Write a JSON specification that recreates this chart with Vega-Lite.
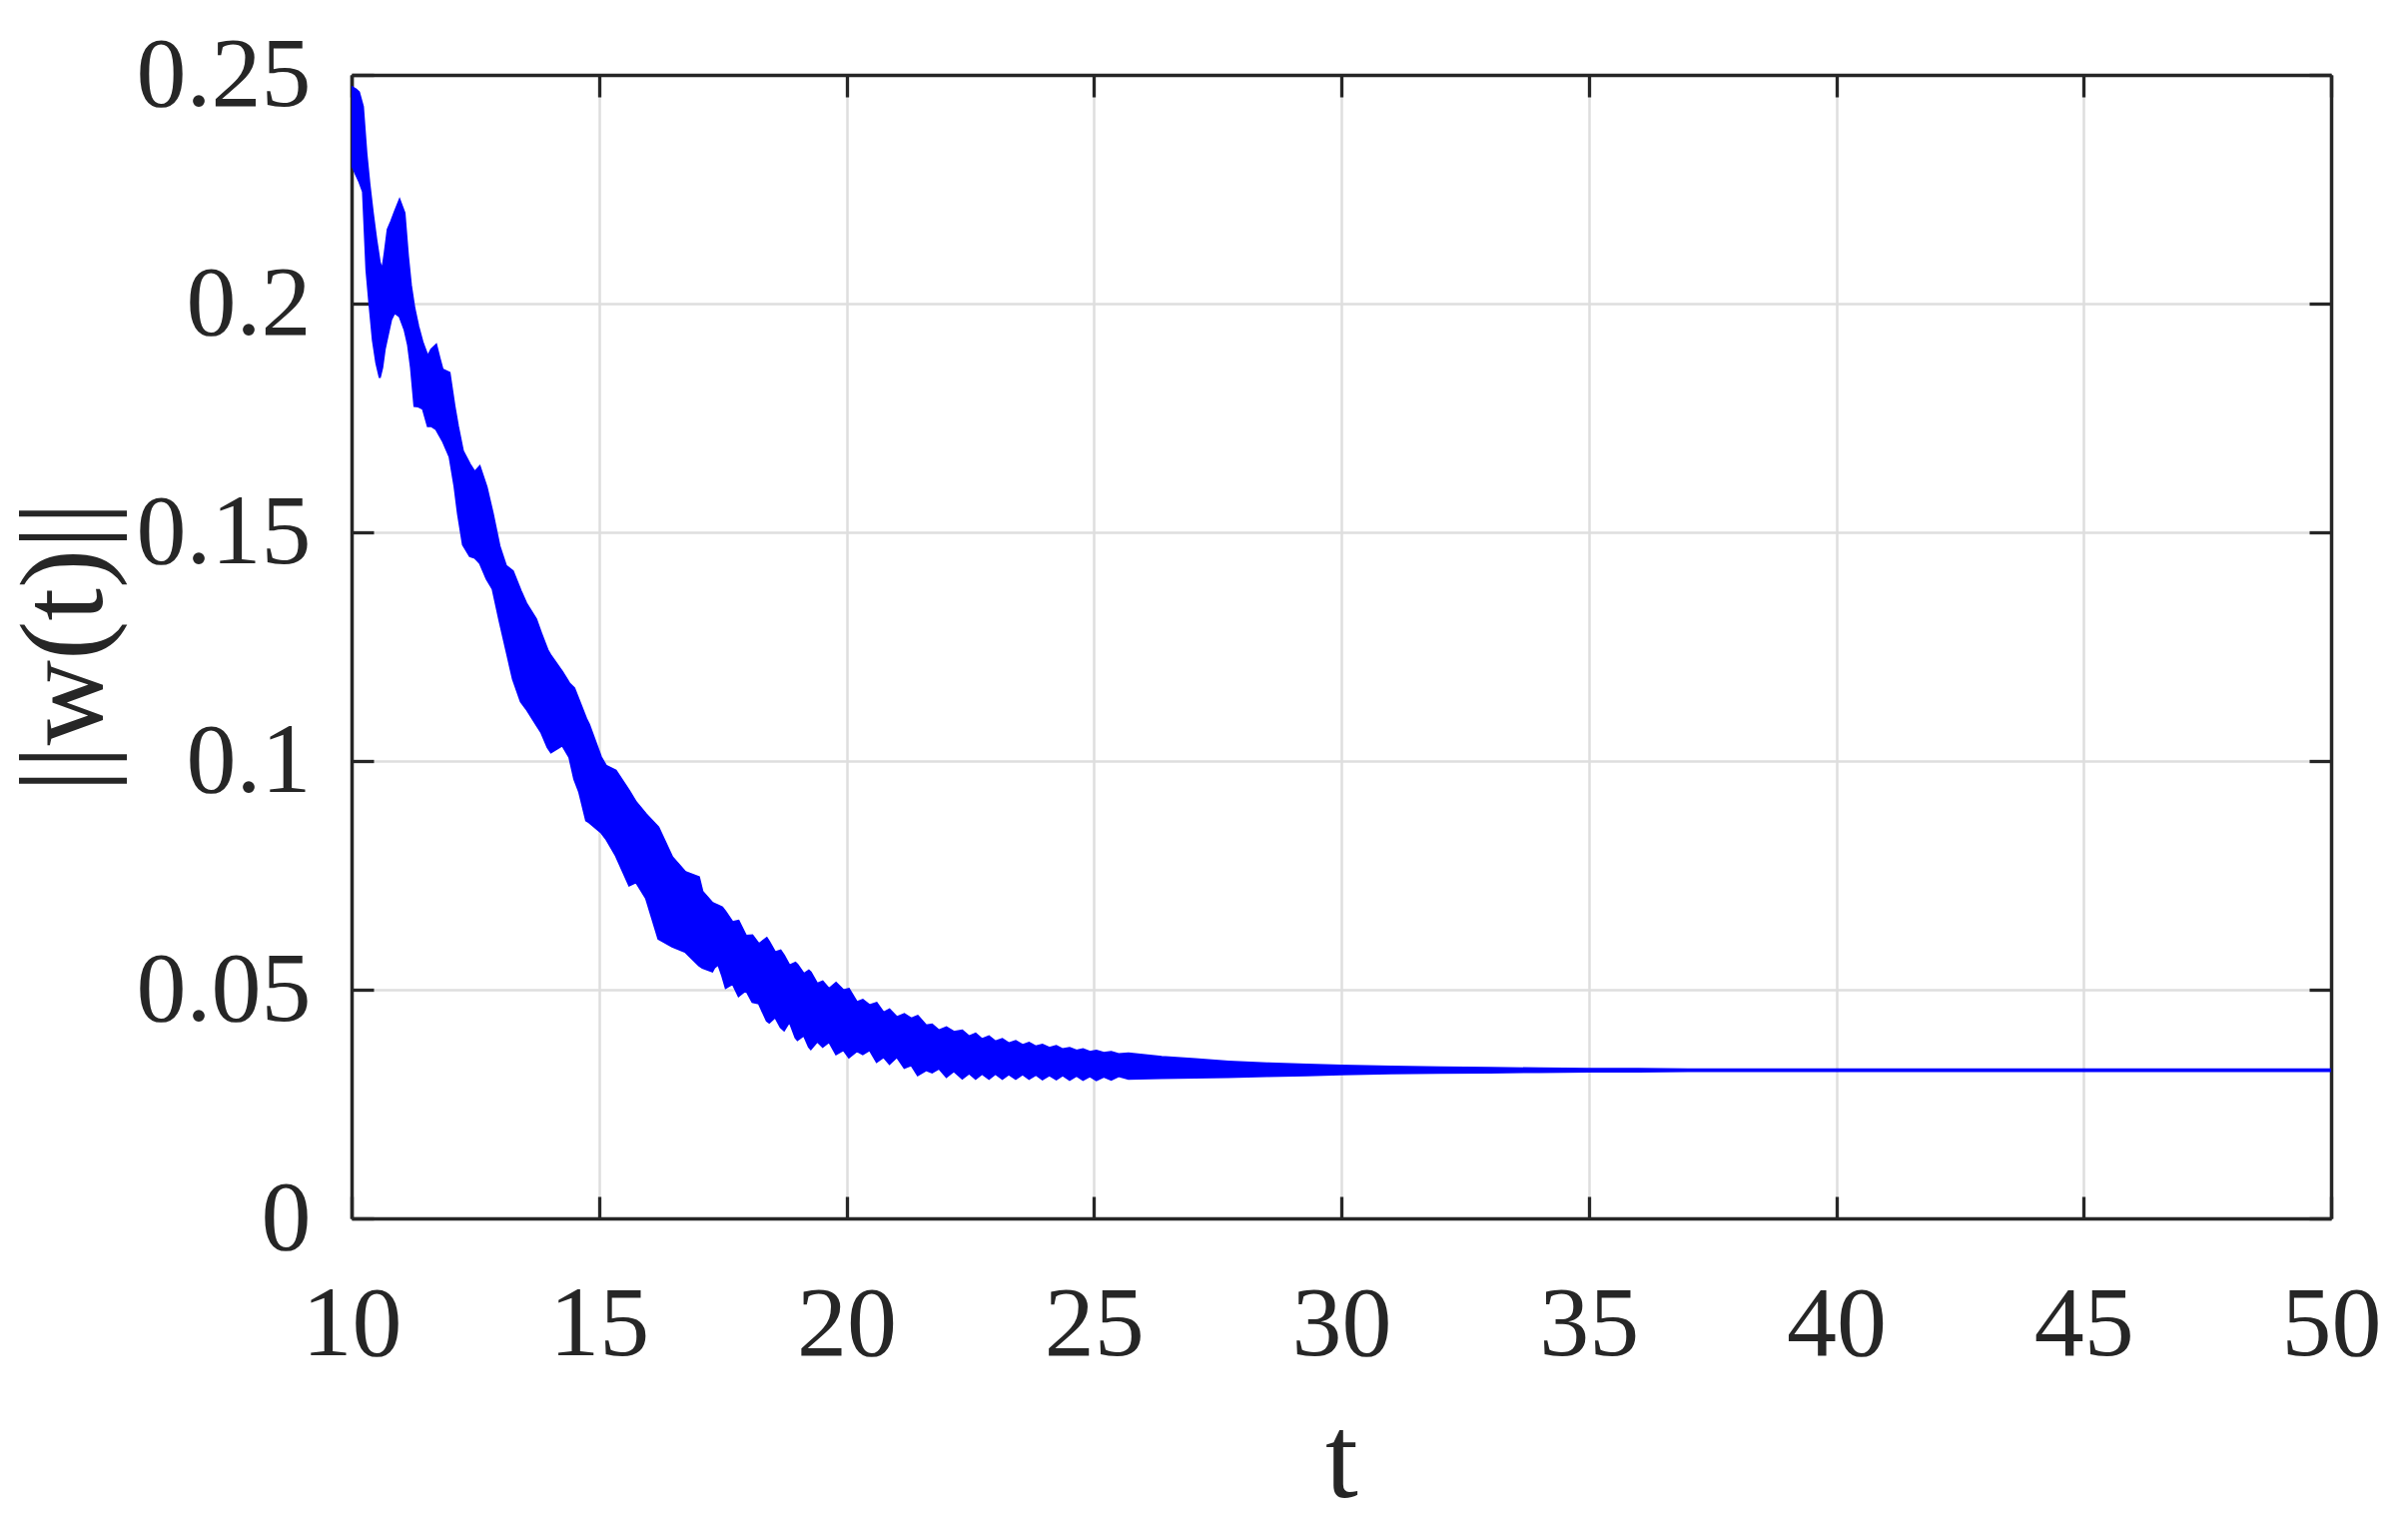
{
  "$schema": "https://vega.github.io/schema/vega-lite/v6.json",
  "width": 1982,
  "height": 1145,
  "autosize": "none",
  "padding": {"left": 352, "top": 75, "right": 77, "bottom": 304},
  "background": "white",
  "config": {"view": {"stroke": null}, "font": "Liberation Serif"},
  "data": {"values": [
    {"t": 10.0, "lo": 0.2304, "hi": 0.2474},
    {"t": 10.09, "lo": 0.2282, "hi": 0.2468},
    {"t": 10.15, "lo": 0.2268, "hi": 0.2462},
    {"t": 10.23, "lo": 0.2245, "hi": 0.2431},
    {"t": 10.3, "lo": 0.2074, "hi": 0.2329},
    {"t": 10.36, "lo": 0.2, "hi": 0.2263},
    {"t": 10.43, "lo": 0.192, "hi": 0.2198},
    {"t": 10.5, "lo": 0.187, "hi": 0.214},
    {"t": 10.57, "lo": 0.1838, "hi": 0.209},
    {"t": 10.62, "lo": 0.186, "hi": 0.2074},
    {"t": 10.67, "lo": 0.19, "hi": 0.2111},
    {"t": 10.73, "lo": 0.193, "hi": 0.2162},
    {"t": 10.8, "lo": 0.1965, "hi": 0.218},
    {"t": 10.87, "lo": 0.198, "hi": 0.22},
    {"t": 10.97, "lo": 0.1972, "hi": 0.2227},
    {"t": 11.07, "lo": 0.1943, "hi": 0.2198},
    {"t": 11.14, "lo": 0.191, "hi": 0.2104},
    {"t": 11.2, "lo": 0.186, "hi": 0.204},
    {"t": 11.27, "lo": 0.1776, "hi": 0.199},
    {"t": 11.35, "lo": 0.1775, "hi": 0.195},
    {"t": 11.44, "lo": 0.177, "hi": 0.1914},
    {"t": 11.54, "lo": 0.1732, "hi": 0.1885},
    {"t": 11.61, "lo": 0.1732, "hi": 0.19},
    {"t": 11.71, "lo": 0.1725, "hi": 0.191},
    {"t": 11.78, "lo": 0.1711, "hi": 0.188},
    {"t": 11.84, "lo": 0.17, "hi": 0.1856},
    {"t": 11.98, "lo": 0.1665, "hi": 0.1849},
    {"t": 12.08, "lo": 0.16, "hi": 0.1776},
    {"t": 12.15, "lo": 0.154, "hi": 0.1732},
    {"t": 12.25, "lo": 0.1473, "hi": 0.1678},
    {"t": 12.39, "lo": 0.1448, "hi": 0.1649},
    {"t": 12.49, "lo": 0.1444, "hi": 0.1632},
    {"t": 12.59, "lo": 0.1433, "hi": 0.1644},
    {"t": 12.73, "lo": 0.1398, "hi": 0.1599},
    {"t": 12.85, "lo": 0.1376, "hi": 0.1543},
    {"t": 12.99, "lo": 0.1306, "hi": 0.147},
    {"t": 13.12, "lo": 0.1245, "hi": 0.1427},
    {"t": 13.26, "lo": 0.1179, "hi": 0.1415},
    {"t": 13.42, "lo": 0.113, "hi": 0.1372},
    {"t": 13.53, "lo": 0.1114, "hi": 0.1345},
    {"t": 13.73, "lo": 0.108, "hi": 0.131},
    {"t": 13.83, "lo": 0.1063, "hi": 0.128},
    {"t": 13.96, "lo": 0.103, "hi": 0.1243},
    {"t": 14.03, "lo": 0.1019, "hi": 0.123},
    {"t": 14.26, "lo": 0.1034, "hi": 0.1195},
    {"t": 14.4, "lo": 0.1008, "hi": 0.117},
    {"t": 14.5, "lo": 0.096, "hi": 0.1159},
    {"t": 14.6, "lo": 0.0932, "hi": 0.1132},
    {"t": 14.74, "lo": 0.087, "hi": 0.1093},
    {"t": 14.8, "lo": 0.0866, "hi": 0.108},
    {"t": 15.04, "lo": 0.0844, "hi": 0.1009},
    {"t": 15.14, "lo": 0.083, "hi": 0.099},
    {"t": 15.34, "lo": 0.0793, "hi": 0.0979},
    {"t": 15.61, "lo": 0.0728, "hi": 0.0935},
    {"t": 15.75, "lo": 0.0735, "hi": 0.091},
    {"t": 15.95, "lo": 0.07, "hi": 0.0884},
    {"t": 16.2, "lo": 0.0611, "hi": 0.0855},
    {"t": 16.48, "lo": 0.0594, "hi": 0.079},
    {"t": 16.75, "lo": 0.0582, "hi": 0.0757},
    {"t": 17.02, "lo": 0.0553, "hi": 0.0746},
    {"t": 17.09, "lo": 0.0548, "hi": 0.0715},
    {"t": 17.29, "lo": 0.054, "hi": 0.069},
    {"t": 17.33, "lo": 0.0548, "hi": 0.0688},
    {"t": 17.41, "lo": 0.0555, "hi": 0.0684},
    {"t": 17.49, "lo": 0.053, "hi": 0.068},
    {"t": 17.56, "lo": 0.0504, "hi": 0.067},
    {"t": 17.7, "lo": 0.0513, "hi": 0.0648},
    {"t": 17.82, "lo": 0.0486, "hi": 0.0651},
    {"t": 17.97, "lo": 0.0499, "hi": 0.0618},
    {"t": 18.1, "lo": 0.0473, "hi": 0.0619},
    {"t": 18.23, "lo": 0.047, "hi": 0.06},
    {"t": 18.39, "lo": 0.0432, "hi": 0.0613},
    {"t": 18.44, "lo": 0.0428, "hi": 0.0605},
    {"t": 18.56, "lo": 0.044, "hi": 0.0582},
    {"t": 18.67, "lo": 0.0418, "hi": 0.0586},
    {"t": 18.74, "lo": 0.0411, "hi": 0.0575},
    {"t": 18.85, "lo": 0.043, "hi": 0.0553},
    {"t": 18.97, "lo": 0.0395, "hi": 0.0559},
    {"t": 19.01, "lo": 0.039, "hi": 0.0555},
    {"t": 19.14, "lo": 0.04, "hi": 0.0535},
    {"t": 19.24, "lo": 0.0375, "hi": 0.0542},
    {"t": 19.28, "lo": 0.037, "hi": 0.0538},
    {"t": 19.41, "lo": 0.0387, "hi": 0.0513},
    {"t": 19.52, "lo": 0.0375, "hi": 0.0518},
    {"t": 19.65, "lo": 0.0386, "hi": 0.0502},
    {"t": 19.79, "lo": 0.0359, "hi": 0.0515},
    {"t": 19.94, "lo": 0.0368, "hi": 0.0499},
    {"t": 20.05, "lo": 0.0352, "hi": 0.0502},
    {"t": 20.21, "lo": 0.0366, "hi": 0.0473},
    {"t": 20.33, "lo": 0.0359, "hi": 0.0478},
    {"t": 20.47, "lo": 0.0368, "hi": 0.0466},
    {"t": 20.61, "lo": 0.0342, "hi": 0.0471},
    {"t": 20.75, "lo": 0.0353, "hi": 0.045},
    {"t": 20.87, "lo": 0.0338, "hi": 0.0457},
    {"t": 21.02, "lo": 0.0353, "hi": 0.044},
    {"t": 21.17, "lo": 0.0329, "hi": 0.0447},
    {"t": 21.31, "lo": 0.0335, "hi": 0.0437},
    {"t": 21.44, "lo": 0.0313, "hi": 0.0443},
    {"t": 21.61, "lo": 0.0324, "hi": 0.0422},
    {"t": 21.73, "lo": 0.0319, "hi": 0.0424},
    {"t": 21.87, "lo": 0.0328, "hi": 0.0411},
    {"t": 22.02, "lo": 0.0309, "hi": 0.0418},
    {"t": 22.17, "lo": 0.0322, "hi": 0.0408},
    {"t": 22.34, "lo": 0.0306, "hi": 0.0411},
    {"t": 22.48, "lo": 0.0317, "hi": 0.0398},
    {"t": 22.61, "lo": 0.0305, "hi": 0.0404},
    {"t": 22.74, "lo": 0.0316, "hi": 0.0392},
    {"t": 22.88, "lo": 0.0305, "hi": 0.0398},
    {"t": 23.01, "lo": 0.0316, "hi": 0.0387},
    {"t": 23.15, "lo": 0.0305, "hi": 0.0392},
    {"t": 23.28, "lo": 0.0315, "hi": 0.0383},
    {"t": 23.42, "lo": 0.0305, "hi": 0.0388},
    {"t": 23.56, "lo": 0.0315, "hi": 0.0379},
    {"t": 23.69, "lo": 0.0305, "hi": 0.0384},
    {"t": 23.83, "lo": 0.0314, "hi": 0.0376},
    {"t": 23.96, "lo": 0.0304, "hi": 0.038},
    {"t": 24.1, "lo": 0.0313, "hi": 0.0373},
    {"t": 24.24, "lo": 0.0304, "hi": 0.0377},
    {"t": 24.37, "lo": 0.0313, "hi": 0.037},
    {"t": 24.51, "lo": 0.0303, "hi": 0.0373},
    {"t": 24.65, "lo": 0.0312, "hi": 0.0367},
    {"t": 24.78, "lo": 0.0303, "hi": 0.037},
    {"t": 24.92, "lo": 0.0311, "hi": 0.0364},
    {"t": 25.05, "lo": 0.0302, "hi": 0.0367},
    {"t": 25.2, "lo": 0.031, "hi": 0.0362},
    {"t": 25.35, "lo": 0.0303, "hi": 0.0364},
    {"t": 25.5, "lo": 0.0311, "hi": 0.0359},
    {"t": 25.7, "lo": 0.0305, "hi": 0.0361},
    {"t": 26.37, "lo": 0.0307, "hi": 0.0353},
    {"t": 27.05, "lo": 0.0308, "hi": 0.0348},
    {"t": 27.72, "lo": 0.0309, "hi": 0.0343},
    {"t": 28.5, "lo": 0.0311, "hi": 0.0339},
    {"t": 29.3, "lo": 0.0313, "hi": 0.0336},
    {"t": 30.0, "lo": 0.0315, "hi": 0.0334},
    {"t": 31.0, "lo": 0.0317, "hi": 0.0332},
    {"t": 32.0, "lo": 0.0318, "hi": 0.033},
    {"t": 33.0, "lo": 0.0319, "hi": 0.0329},
    {"t": 34.0, "lo": 0.032, "hi": 0.0328},
    {"t": 35.0, "lo": 0.0321, "hi": 0.0327},
    {"t": 36.0, "lo": 0.0321, "hi": 0.0327},
    {"t": 37.0, "lo": 0.0322, "hi": 0.0326},
    {"t": 39.0, "lo": 0.0322, "hi": 0.0326},
    {"t": 50.0, "lo": 0.0322, "hi": 0.0326}
  ]},
  "layer": [
    {
      "mark": {"type": "area", "fill": "#0000ff", "stroke": "#0000ff", "strokeWidth": 2, "opacity": 1, "clip": true},
      "encoding": {
        "x": {
          "field": "t", "type": "quantitative",
          "scale": {"domain": [10, 50], "nice": false},
          "axis": {
            "orient": "bottom",
            "values": [10, 15, 20, 25, 30, 35, 40, 45, 50],
            "format": "d",
            "title": "t",
            "titleFont": "Liberation Serif", "titleFontSize": 118, "titleFontWeight": "normal", "titleColor": "#262626",
            "titleBaseline": "alphabetic", "titleY": 278,
            "labelFont": "Liberation Serif", "labelFontSize": 100, "labelColor": "#262626",
            "labelPadding": 79, "labelFlush": false, "labelOverlap": false, "labelLimit": 0,
            "grid": true, "gridColor": "#dedede", "gridWidth": 2.5,
            "tickSize": -22, "tickColor": "#262626", "tickWidth": 3.3,
            "domain": true, "domainColor": "#262626", "domainWidth": 3.5
          }
        },
        "y": {
          "field": "lo", "type": "quantitative",
          "scale": {"domain": [0, 0.25], "nice": false},
          "axis": {
            "orient": "left",
            "values": [0, 0.05, 0.1, 0.15, 0.2, 0.25],
            "format": "~g",
            "title": "||w(t)||",
            "titleFont": "Liberation Serif", "titleFontSize": 118, "titleFontWeight": "normal", "titleColor": "#262626",
            "titleBaseline": "alphabetic", "titleX": -251, "titleY": 572.5, "titleAngle": -90, "titleLimit": 0,
            "labelFont": "Liberation Serif", "labelFontSize": 100, "labelColor": "#262626",
            "labelPadding": 63, "labelFlush": false, "labelOverlap": false, "labelLimit": 0,
            "grid": true, "gridColor": "#dedede", "gridWidth": 2.5,
            "tickSize": -22, "tickColor": "#262626", "tickWidth": 3.3,
            "domain": true, "domainColor": "#262626", "domainWidth": 3.5
          }
        },
        "y2": {"field": "hi"}
      }
    },
    {
      "mark": {"type": "area", "opacity": 0},
      "encoding": {
        "x": {
          "field": "t", "type": "quantitative",
          "scale": {"domain": [10, 50], "nice": false},
          "axis": {
            "orient": "top", "values": [10, 15, 20, 25, 30, 35, 40, 45, 50],
            "labels": false, "title": null, "grid": false,
            "tickSize": -22, "tickColor": "#262626", "tickWidth": 3.3,
            "domain": true, "domainColor": "#262626", "domainWidth": 3.5
          }
        },
        "y": {
          "field": "lo", "type": "quantitative",
          "scale": {"domain": [0, 0.25], "nice": false},
          "axis": {
            "orient": "right", "values": [0, 0.05, 0.1, 0.15, 0.2, 0.25],
            "labels": false, "title": null, "grid": false,
            "tickSize": -22, "tickColor": "#262626", "tickWidth": 3.3,
            "domain": true, "domainColor": "#262626", "domainWidth": 3.5
          }
        },
        "y2": {"field": "hi"}
      }
    }
  ],
  "resolve": {"axis": {"x": "independent", "y": "independent"}}
}
